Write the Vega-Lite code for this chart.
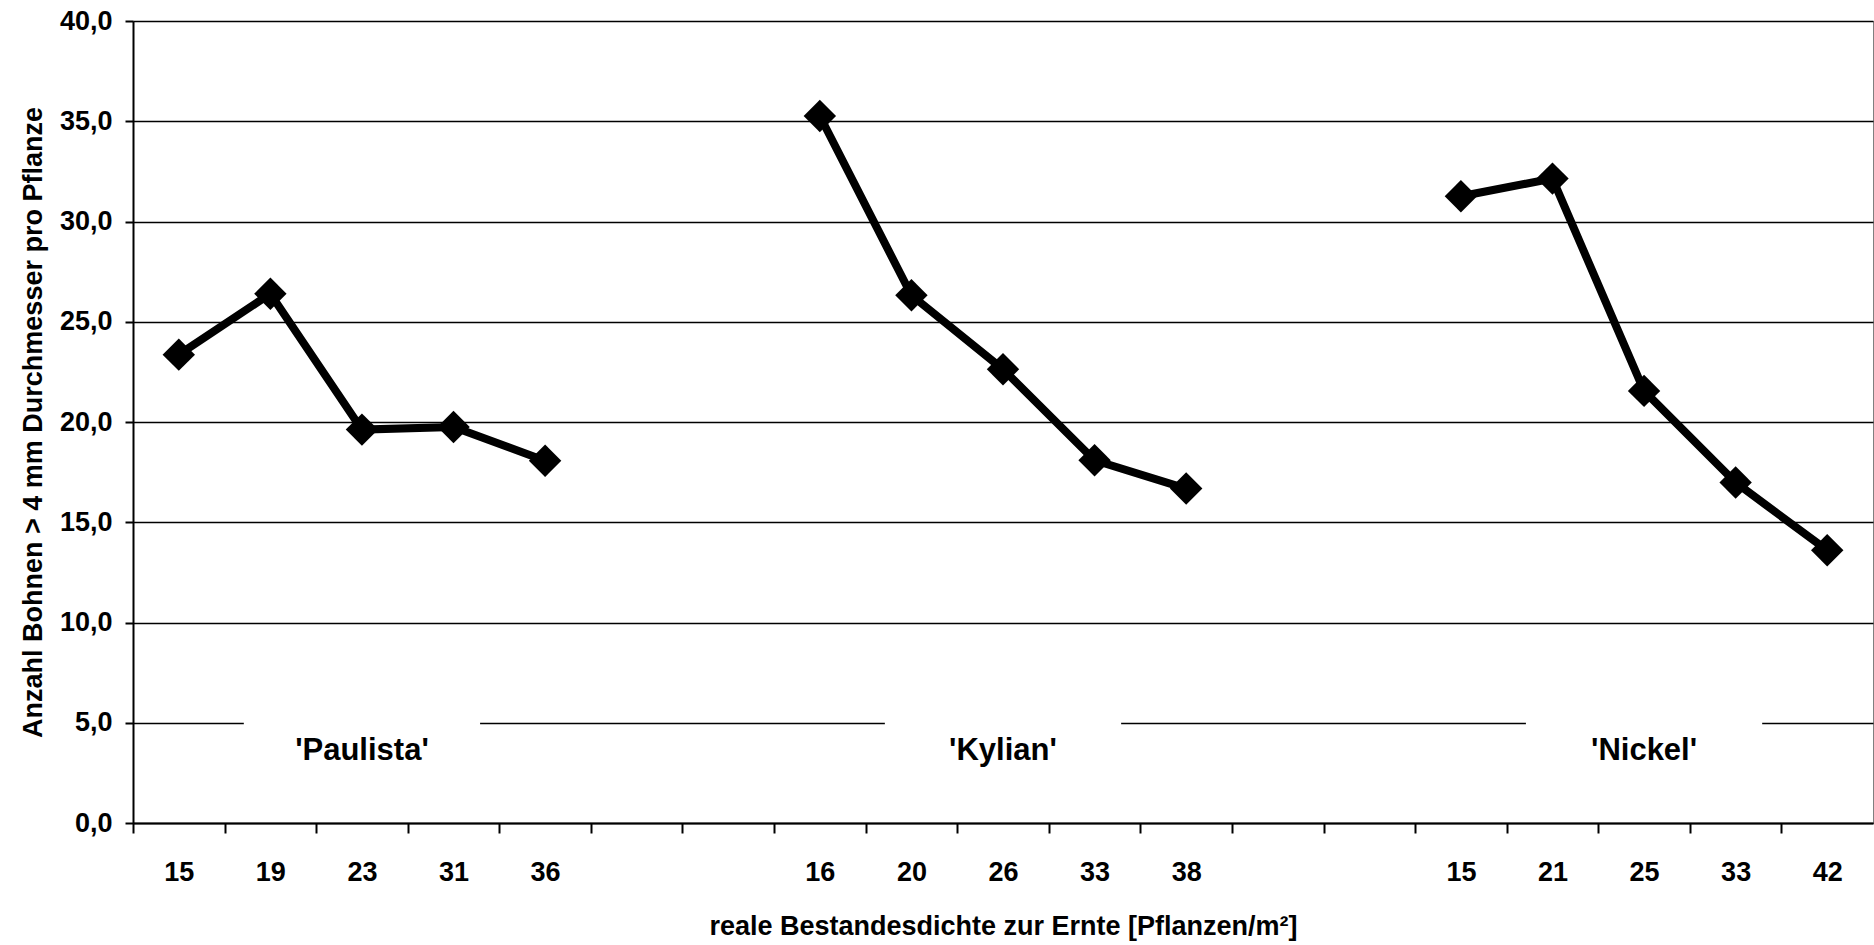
{
  "$schema": "https://vega.github.io/schema/vega-lite/v6.json",
  "width": 1740,
  "height": 802,
  "autosize": {"type": "none"},
  "padding": {"left": 133, "top": 21, "right": 1, "bottom": 122},
  "background": "white",
  "config": {
    "font": "Liberation Sans",
    "view": {"stroke": "#808080", "strokeWidth": 1}
  },
  "datasets": {
    "points": [
      {"variety": "Paulista", "cat": "P15", "beans": 23.36},
      {"variety": "Paulista", "cat": "P19", "beans": 26.4},
      {"variety": "Paulista", "cat": "P23", "beans": 19.62},
      {"variety": "Paulista", "cat": "P31", "beans": 19.75},
      {"variety": "Paulista", "cat": "P36", "beans": 18.07},
      {"variety": "Kylian", "cat": "K16", "beans": 35.26},
      {"variety": "Kylian", "cat": "K20", "beans": 26.32},
      {"variety": "Kylian", "cat": "K26", "beans": 22.63},
      {"variety": "Kylian", "cat": "K33", "beans": 18.09},
      {"variety": "Kylian", "cat": "K38", "beans": 16.68},
      {"variety": "Nickel", "cat": "N15", "beans": 31.26},
      {"variety": "Nickel", "cat": "N21", "beans": 32.14},
      {"variety": "Nickel", "cat": "N25", "beans": 21.55},
      {"variety": "Nickel", "cat": "N33", "beans": 16.98},
      {"variety": "Nickel", "cat": "N42", "beans": 13.6}
    ],
    "labels": [
      {"label": "'Paulista'", "cat": "P23"},
      {"label": "'Kylian'", "cat": "K26"},
      {"label": "'Nickel'", "cat": "N25"}
    ]
  },
  "layer": [
    {
      "data": {"name": "points"},
      "mark": {"type": "line", "color": "black", "strokeWidth": 8, "strokeJoin": "miter"},
      "encoding": {
        "x": {
          "field": "cat",
          "type": "nominal",
          "scale": {
            "type": "band",
            "paddingInner": 0,
            "paddingOuter": 0,
            "domain": ["P15","P19","P23","P31","P36","g1","g2","K16","K20","K26","K33","K38","g3","g4","N15","N21","N25","N33","N42"]
          },
          "axis": {
            "title": "reale Bestandesdichte zur Ernte [Pflanzen/m²]",
            "labelExpr": "indexof(datum.value, 'g') == 0 ? '' : slice(datum.value, 1)",
            "labelAngle": 0,
            "labelFontSize": 27,
            "labelFontWeight": "bold",
            "labelColor": "black",
            "labelPadding": 26,
            "tickOffset": -45.79,
            "labelOffset": 45.79,
            "titleFontSize": 27,
            "titleFontWeight": "bold",
            "titleColor": "black",
            "titlePadding": 28,
            "tickSize": 10,
            "tickWidth": 2,
            "tickColor": "black",
            "domainColor": "black",
            "domainWidth": 2,
            "grid": false
          }
        },
        "y": {
          "field": "beans",
          "type": "quantitative",
          "scale": {"domain": [0, 40], "nice": false, "zero": true},
          "axis": {
            "title": "Anzahl Bohnen > 4 mm Durchmesser pro Pflanze",
            "values": [0, 5, 10, 15, 20, 25, 30, 35, 40],
            "labelExpr": "replace(format(datum.value, '.1f'), '.', ',')",
            "labelFontSize": 27,
            "labelFontWeight": "bold",
            "labelColor": "black",
            "labelPadding": 13,
            "titleFontSize": 27,
            "titleFontWeight": "bold",
            "titleColor": "black",
            "titlePadding": 12,
            "tickSize": 8,
            "tickWidth": 2,
            "tickColor": "black",
            "domainColor": "black",
            "domainWidth": 2,
            "grid": true,
            "gridColor": "black",
            "gridWidth": 1.3,
            "gridOpacity": 1
          }
        },
        "detail": {"field": "variety"}
      }
    },
    {
      "data": {"name": "points"},
      "mark": {"type": "point", "shape": "diamond", "filled": true, "size": 1050, "color": "black", "opacity": 1},
      "encoding": {
        "x": {"field": "cat", "type": "nominal"},
        "y": {"field": "beans", "type": "quantitative"}
      }
    },
    {
      "data": {"name": "labels"},
      "mark": {"type": "bar", "color": "white", "width": {"band": 2.58}},
      "encoding": {
        "x": {"field": "cat", "type": "nominal"},
        "y": {"datum": 5.6, "type": "quantitative"},
        "y2": {"datum": 4.4}
      }
    },
    {
      "data": {"name": "labels"},
      "mark": {"type": "text", "fontSize": 31, "fontWeight": "bold", "color": "black", "baseline": "alphabetic", "align": "center"},
      "encoding": {
        "x": {"field": "cat", "type": "nominal"},
        "y": {"datum": 3.13, "type": "quantitative"},
        "text": {"field": "label"}
      }
    }
  ]
}
